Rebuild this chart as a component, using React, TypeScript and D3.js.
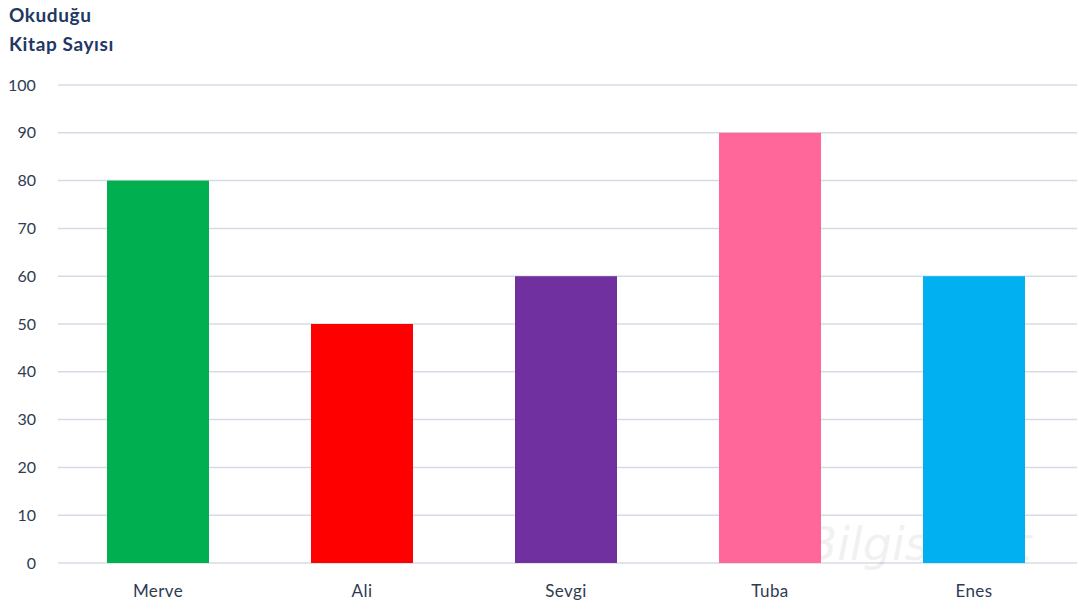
import React from "react";
import * as d3 from "d3";

const names = ["Merve", "Ali", "Sevgi", "Tuba", "Enes"];
const values = [80, 50, 60, 90, 60];
const colors = ["#00B050", "#FF0000", "#7030A0", "#FF6699", "#00B0F0"];
const yTicks = [0, 10, 20, 30, 40, 50, 60, 70, 80, 90, 100];
const titleLines = ["Okuduğu", "Kitap Sayısı"];
const watermark = "Dil-Bilgisi.net";

export default function App() {
  const W = 1079, H = 611;
  const left = 58, right = 1077, top = 85, bottom = 563;
  const x = d3.scaleBand<string>().domain(names).range([56, 1076]).paddingInner(0.5).paddingOuter(0.25);
  const y = d3.scaleLinear().domain([0, 100]).range([bottom, top]);
  const font = "Lato, 'Open Sans', sans-serif";
  return (
    <svg width={W} height={H} style={{ position: "absolute", left: 0, top: 0, background: "#fff" }} fontFamily={font}>
      {titleLines.map((t, i) => (
        <text key={t} x={9} y={22 + i * 29} fontSize={19} fontWeight={700} fill="#1F3864" letterSpacing={0.6}>{t}</text>
      ))}
      {yTicks.map((t) => (
        <g key={t}>
          <line x1={left} x2={right} y1={y(t)} y2={y(t)} stroke="#D6DCE5" strokeWidth={1.5} />
          <text x={t === 100 ? 8 : 36} y={y(t)} dy="0.35em" textAnchor={t === 100 ? "start" : "end"} fontSize={16} fill="#2F3B52">{t}</text>
        </g>
      ))}
      <text x={728} y={560} fontSize={46} fontStyle="italic" fill="#000" opacity={0.05} fontFamily="'DejaVu Sans', sans-serif">{watermark}</text>
      {names.map((n, i) => (
        <g key={n}>
          <rect x={x(n)} y={y(values[i])} width={x.bandwidth()} height={bottom - y(values[i])} fill={colors[i]} />
          <text x={(x(n) as number) + x.bandwidth() / 2} y={597} textAnchor="middle" fontSize={17} letterSpacing={0.4} fill="#2F3B52">{n}</text>
        </g>
      ))}
    </svg>
  );
}
